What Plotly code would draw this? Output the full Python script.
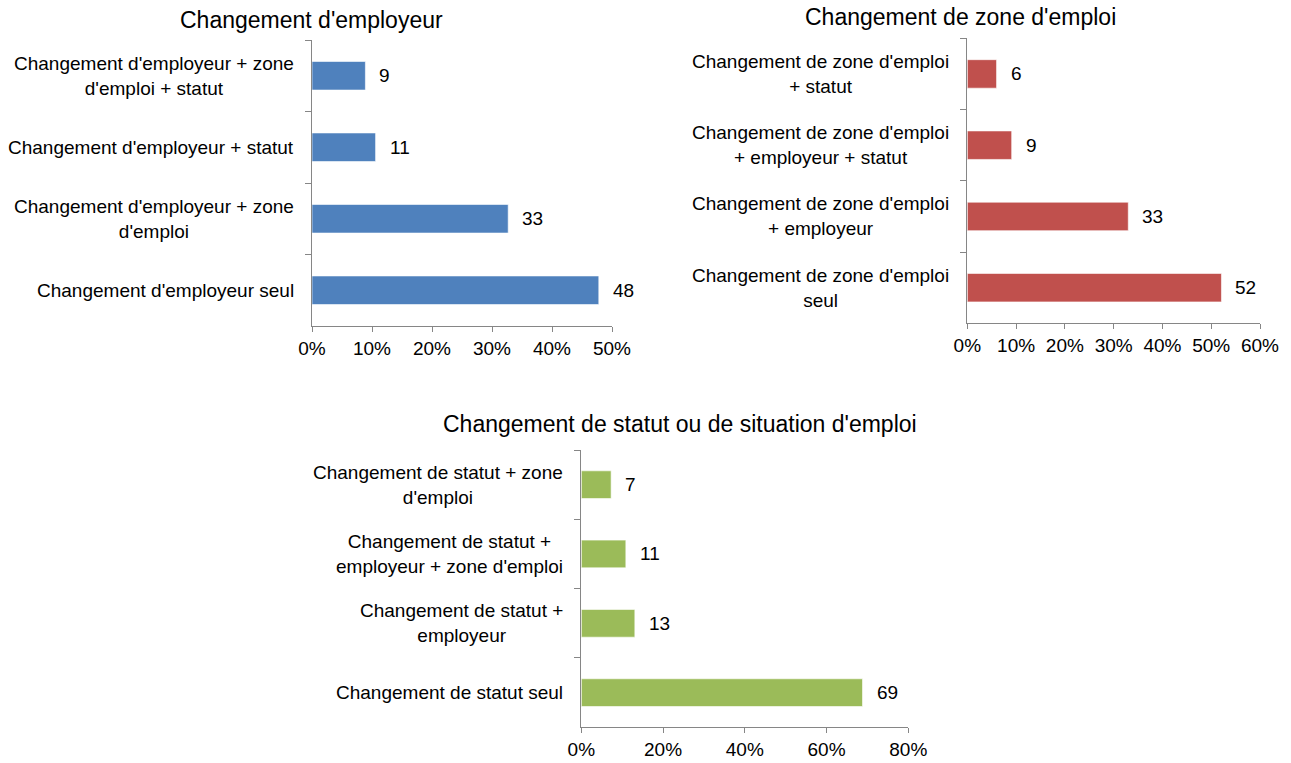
import plotly.graph_objects as go

# Données (en %)
emp_cats = ["Changement d'employeur + zone<br>d'emploi + statut",
            "Changement d'employeur + statut",
            "Changement d'employeur + zone<br>d'emploi",
            "Changement d'employeur seul"]
emp_vals = [8.9, 10.6, 32.7, 47.8]

zone_cats = ["Changement de zone d'emploi<br>+ statut",
             "Changement de zone d'emploi<br>+ employeur + statut",
             "Changement de zone d'emploi<br>+ employeur",
             "Changement de zone d'emploi<br>seul"]
zone_vals = [6.0, 9.1, 33.0, 52.1]

statut_cats = ["Changement de statut + zone<br>d'emploi",
               "Changement de statut +<br>employeur + zone d'emploi",
               "Changement de statut +<br>employeur",
               "Changement de statut seul"]
statut_vals = [7.3, 10.9, 13.1, 68.8]

titles = ["Changement d'employeur",
          "Changement de zone d'emploi",
          "Changement de statut ou de situation d'emploi"]

FONT = "Liberation Sans, Arial, sans-serif"
AXIS_COLOR = "#868686"
W, H = 1291, 763

panels = [
    # cats, vals, couleur, xmax, dtick, x domain (px), y domain (px depuis le haut), titre (px)
    (emp_cats, emp_vals, "#4F81BD", 50, 10, (312, 612), (40, 326), (311, 20)),
    (zone_cats, zone_vals, "#C0504D", 60, 10, (967.3, 1260), (38.3, 323.3), (960, 17)),
    (statut_cats, statut_vals, "#9BBB59", 80, 20, (581.3, 908.3), (450, 727.3), (680, 424)),
]

fig = go.Figure()
annotations = []

for i, (cats, vals, color, xmax, dtick, xd, yd, tpos) in enumerate(panels, start=1):
    sfx = "" if i == 1 else str(i)
    fig.add_trace(go.Bar(
        x=vals, y=cats, orientation="h",
        marker_color=color,
        marker_line=dict(color="rgba(255,255,255,0.6)", width=1),
        width=0.4,
        xaxis="x" + sfx, yaxis="y" + sfx,
        hoverinfo="x+y", showlegend=False
    ))

    fig.layout["xaxis" + sfx] = dict(
        domain=[xd[0] / W, xd[1] / W],
        anchor="y" + sfx,
        range=[0, xmax], dtick=dtick, ticksuffix="%",
        showgrid=False, zeroline=False,
        showline=True, linecolor=AXIS_COLOR, linewidth=1,
        ticks="outside", ticklen=5, tickcolor=AXIS_COLOR,
        automargin=False,
        tickfont=dict(family=FONT, size=19, color="black"),
        fixedrange=True
    )
    fig.layout["yaxis" + sfx] = dict(
        domain=[1 - yd[1] / H, 1 - yd[0] / H],
        anchor="x" + sfx,
        type="category", range=[len(cats) - 0.5, -0.5],
        showgrid=False, zeroline=False,
        showline=True, linecolor=AXIS_COLOR, linewidth=1,
        ticks="outside", ticklen=6, tickcolor=AXIS_COLOR,
        tickson="boundaries", showticklabels=False, automargin=False,
        fixedrange=True
    )

    # libellés de catégories centrés
    for c in cats:
        annotations.append(dict(
            x=0, xref="x" + sfx + " domain", y=c, yref="y" + sfx,
            text=c, showarrow=False, xanchor="right", align="center",
            xshift=-16, font=dict(family=FONT, size=19, color="black")
        ))
    # étiquettes de valeurs
    for c, v in zip(cats, vals):
        annotations.append(dict(
            x=v, xref="x" + sfx, y=c, yref="y" + sfx,
            text=str(round(v)), showarrow=False, xanchor="left",
            xshift=12, font=dict(family=FONT, size=19, color="black")
        ))
    # titre
    annotations.append(dict(
        x=tpos[0] / W, y=1 - tpos[1] / H, xref="paper", yref="paper",
        text=titles[i - 1], showarrow=False, xanchor="center", yanchor="middle",
        font=dict(family=FONT, size=23, color="black")
    ))

fig.update_layout(
    width=W, height=H,
    margin=dict(l=0, r=0, t=0, b=0, pad=0, autoexpand=False),
    paper_bgcolor="white", plot_bgcolor="white",
    font=dict(family=FONT, size=19, color="black"),
    annotations=annotations
)

fig.write_html("out.html",
               config={"displayModeBar": False},
               post_script="document.body.style.margin='0';document.body.style.overflow='hidden';")
